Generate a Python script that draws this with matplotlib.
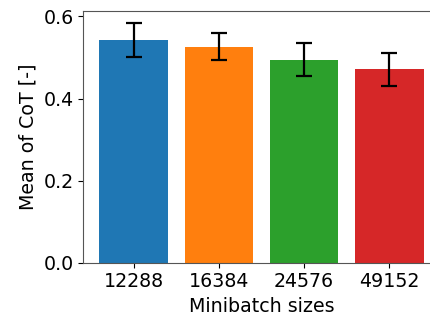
import numpy as np
import matplotlib
matplotlib.use("Agg")
import matplotlib.pyplot as plt

# minibatch sizes and mean CoT with std
batch_labels = ["12288", "16384", "24576", "49152"]
cot_mean = [0.543, 0.526, 0.495, 0.471]
cot_std = [0.041, 0.033, 0.041, 0.041]
bar_colors = ["#1f77b4", "#ff7f0e", "#2ca02c", "#d62728"]

plt.rcParams["font.size"] = 13.7

fig = plt.figure(figsize=(4.3, 3.21), dpi=100)
ax = fig.add_axes([0.1937, 0.1816, 0.829, 0.784])

x = np.arange(len(batch_labels))
ax.bar(x, cot_mean, yerr=cot_std, color=bar_colors, capsize=6,
       error_kw=dict(elinewidth=1.6, capthick=1.6, ecolor="black"))
ax.set_xticks(x)
ax.set_xticklabels(batch_labels)
ax.set_yticks([0.0, 0.2, 0.4, 0.6])
ax.set_xlabel("Minibatch sizes")
ax.set_ylabel("Mean of CoT [-]")

for s in ax.spines.values():
    s.set_color("#555555")
ax.spines["right"].set_visible(False)

fig.savefig("out.png", dpi=100)
